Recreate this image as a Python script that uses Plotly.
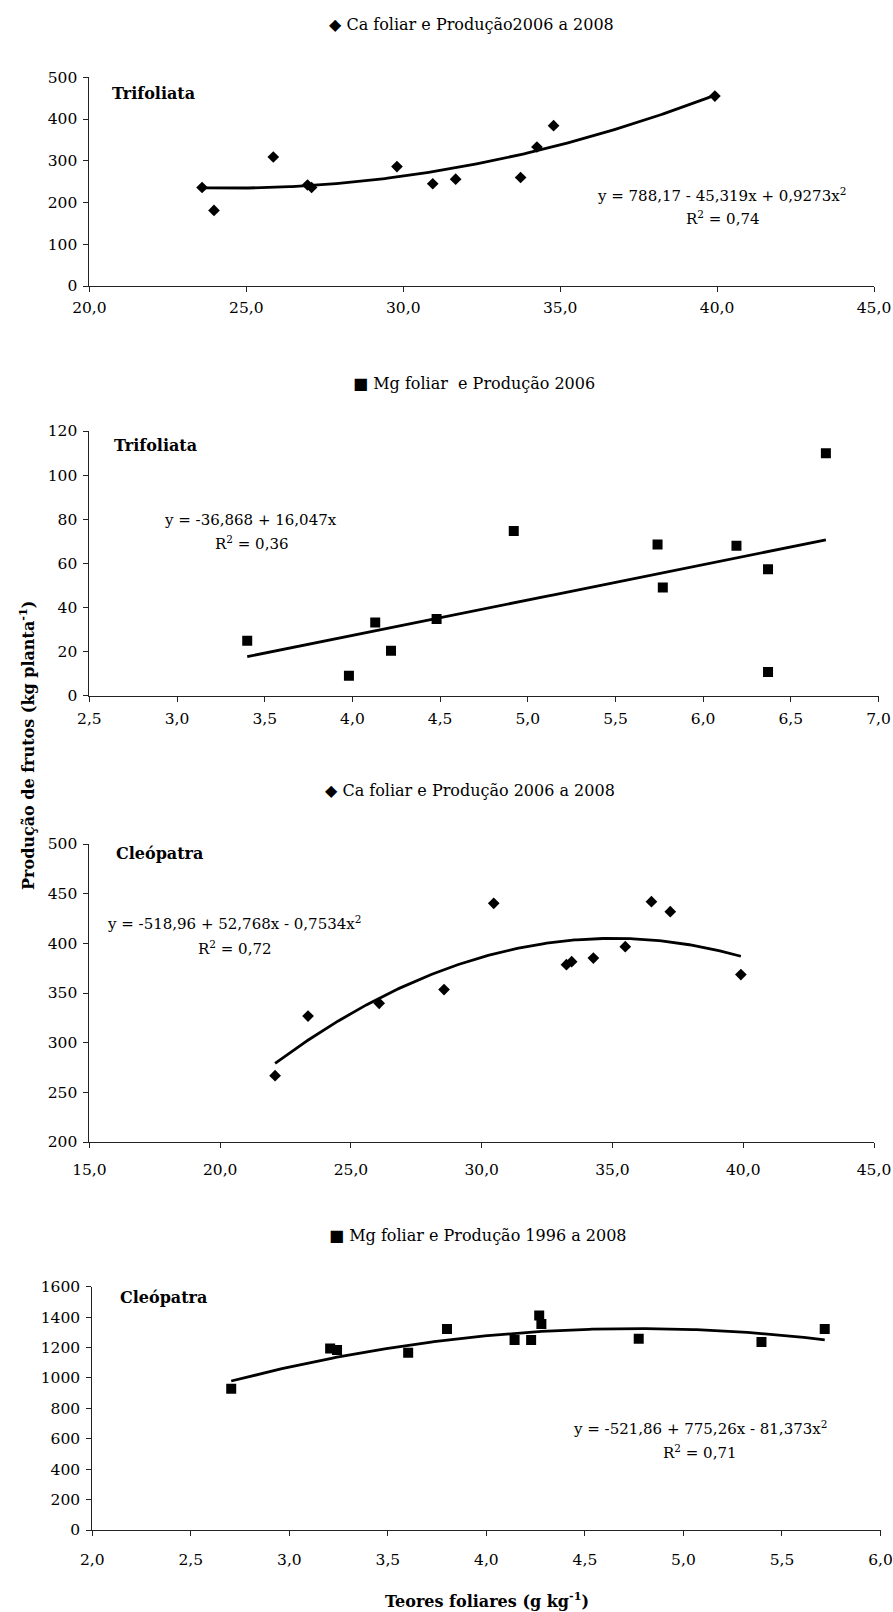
import numpy as np
import plotly.graph_objects as go

W, H = 893, 1612

# ---------------- data ----------------
# Panel 1: Ca foliar x Produção 2006 a 2008 (Trifoliata)
ca_tri_x = [23.59, 23.97, 25.86, 26.95, 27.08, 29.80, 30.94, 31.67, 33.74, 34.26, 34.79, 39.93]
ca_tri_y = [236, 181, 309, 242, 236, 286, 245, 256, 260, 333, 384, 455]
ca_tri_coef = [788.17, -45.319, 0.9273]

# Panel 2: Mg foliar x Produção 2006 (Trifoliata)
mg_tri_x = [3.40, 3.98, 4.13, 4.22, 4.48, 4.92, 5.74, 5.77, 6.19, 6.37, 6.37, 6.70]
mg_tri_y = [24.9, 9.1, 33.2, 20.4, 34.8, 74.7, 68.6, 49.1, 68.0, 57.3, 10.7, 109.9]
mg_tri_coef = [-36.868, 16.047, 0.0]

# Panel 3: Ca foliar x Produção 2006 a 2008 (Cleópatra)
ca_cle_x = [22.10, 23.36, 26.08, 28.56, 30.46, 33.24, 33.44, 34.27, 35.49, 36.49, 37.21, 39.91]
ca_cle_y = [266.8, 326.8, 339.6, 353.4, 440.3, 378.5, 381.5, 385.2, 396.6, 441.9, 431.9, 368.5]
ca_cle_coef = [-518.96, 52.768, -0.7534]

# Panel 4: Mg foliar x Produção 1996 a 2008 (Cleópatra)
mg_cle_x = [2.705, 3.207, 3.242, 3.603, 3.800, 4.143, 4.227, 4.268, 4.279, 4.773, 5.396, 5.717]
mg_cle_y = [929, 1194, 1183, 1166, 1322, 1249, 1249, 1411, 1355, 1258, 1236, 1322]
mg_cle_coef = [-521.86, 775.26, -81.373]

titles = ["\u25C6 Ca foliar e Produção2006 a 2008",
          "\u25A0 Mg foliar  e Produção 2006",
          "\u25C6 Ca foliar e Produção 2006 a 2008",
          "\u25A0 Mg foliar e Produção 1996 a 2008"]
labels = ["Trifoliata", "Trifoliata", "Cleópatra", "Cleópatra"]
equations = ["y = 788,17 - 45,319x + 0,9273x<sup>2</sup>",
             "y = -36,868 + 16,047x",
             "y = -518,96 + 52,768x - 0,7534x<sup>2</sup>",
             "y = -521,86 + 775,26x - 81,373x<sup>2</sup>"]
r2_texts = ["R<sup>2</sup> = 0,74", "R<sup>2</sup> = 0,36", "R<sup>2</sup> = 0,72", "R<sup>2</sup> = 0,71"]

x_ticks = [[20, 25, 30, 35, 40, 45],
           [2.5, 3.0, 3.5, 4.0, 4.5, 5.0, 5.5, 6.0, 6.5, 7.0],
           [15, 20, 25, 30, 35, 40, 45],
           [2.0, 2.5, 3.0, 3.5, 4.0, 4.5, 5.0, 5.5, 6.0]]
x_ranges = [[20, 45], [2.5, 7.0], [15, 45], [2.0, 6.0]]
y_ranges = [[0, 500], [0, 120], [200, 500], [0, 1600]]
y_dticks = [100, 20, 50, 200]

xs = [ca_tri_x, mg_tri_x, ca_cle_x, mg_cle_x]
ys = [ca_tri_y, mg_tri_y, ca_cle_y, mg_cle_y]
coefs = [ca_tri_coef, mg_tri_coef, ca_cle_coef, mg_cle_coef]
symbols = ["diamond", "square", "diamond", "square"]
msizes = [9, 10, 9, 10]

# ---------------- layout geometry (pixels) ----------------
boxes = [(89.4, 874.0, 77.3, 286.0),
         (89.4, 878.5, 431.0, 695.7),
         (89.4, 874.0, 844.0, 1142.0),
         (92.3, 880.5, 1286.7, 1530.0)]
title_pos = [(471, 24), (474, 383), (470, 791), (478, 1235)]
label_pos = [(110, 93), (112, 445), (114, 853), (118, 1297)]
eq_pos = [(721, 195), (251, 520), (234, 923), (700, 1428)]
r2_pos = [(723, 218), (252, 543), (235, 948), (700, 1452)]
x_standoff = [2, 4, 8, 10]

SERIF = "DejaVu Serif"
TICK = 15.5

def fx(px):
    return px / W

def fy(py):
    return 1 - py / H

fig = go.Figure()
layout = dict(width=W, height=H, margin=dict(l=0, r=0, t=0, b=0, autoexpand=False),
              plot_bgcolor="white", paper_bgcolor="white", showlegend=False,
              font=dict(family=SERIF, size=TICK, color="black"))
annotations = []

def fmt(v):
    return ("%.1f" % v).replace(".", ",")

for i in range(4):
    n = "" if i == 0 else str(i + 1)
    xa, ya = "x" + n, "y" + n
    L, R, T, B = boxes[i]
    c0, c1, c2 = coefs[i]
    tx = np.linspace(min(xs[i]), max(xs[i]), 200)
    ty = c0 + c1 * tx + c2 * tx ** 2
    fig.add_trace(go.Scatter(x=tx, y=ty, mode="lines", line=dict(color="black", width=2.8),
                             xaxis=xa, yaxis=ya, hoverinfo="skip"))
    fig.add_trace(go.Scatter(x=xs[i], y=ys[i], mode="markers",
                             marker=dict(symbol=symbols[i], size=msizes[i], color="black"),
                             xaxis=xa, yaxis=ya))
    layout["xaxis" + n] = dict(domain=[fx(L), fx(R)], anchor=ya, range=x_ranges[i],
                               tickvals=x_ticks[i], ticktext=[fmt(v) for v in x_ticks[i]],
                               showline=True, linecolor="#222", linewidth=1,
                               ticks="outside", ticklen=5, tickcolor="#222",
                               ticklabelstandoff=x_standoff[i], automargin=False,
                               showgrid=False, zeroline=False,
                               tickfont=dict(family=SERIF, size=TICK, color="black"))
    layout["yaxis" + n] = dict(domain=[fy(B), fy(T)], anchor=xa, range=y_ranges[i],
                               dtick=y_dticks[i], tick0=0,
                               showline=True, linecolor="#222", linewidth=1,
                               ticks="outside", ticklen=5, tickcolor="#222",
                               ticklabelstandoff=3, automargin=False,
                               showgrid=False, zeroline=False,
                               tickfont=dict(family=SERIF, size=TICK, color="black"))
    annotations.append(dict(x=fx(title_pos[i][0]), y=fy(title_pos[i][1]), xref="paper", yref="paper",
                            text=titles[i], showarrow=False, xanchor="center", yanchor="middle",
                            font=dict(family=SERIF, size=16)))
    annotations.append(dict(x=fx(label_pos[i][0]), y=fy(label_pos[i][1]), xref="paper", yref="paper",
                            text="<b>" + labels[i] + "</b>", showarrow=False, xanchor="left",
                            yanchor="middle", font=dict(family=SERIF, size=16)))
    annotations.append(dict(x=fx(eq_pos[i][0]), y=fy(eq_pos[i][1]), xref="paper", yref="paper",
                            text=equations[i], showarrow=False, xanchor="center", yanchor="middle",
                            font=dict(family=SERIF, size=15)))
    annotations.append(dict(x=fx(r2_pos[i][0]), y=fy(r2_pos[i][1]), xref="paper", yref="paper",
                            text=r2_texts[i], showarrow=False, xanchor="center", yanchor="middle",
                            font=dict(family=SERIF, size=15)))

annotations.append(dict(x=fx(27), y=fy(746), xref="paper", yref="paper",
                        text="<b>Produção de frutos (kg planta<sup>-1</sup>)</b>", textangle=-90,
                        showarrow=False, xanchor="center", yanchor="middle",
                        font=dict(family=SERIF, size=16)))
annotations.append(dict(x=fx(487), y=fy(1600), xref="paper", yref="paper",
                        text="<b>Teores foliares (g kg<sup>-1</sup>)</b>",
                        showarrow=False, xanchor="center", yanchor="middle",
                        font=dict(family=SERIF, size=16)))
layout["annotations"] = annotations
fig.update_layout(**layout)
fig.write_html("out.html", config={"displayModeBar": False},
               post_script="document.body.style.margin='0';document.body.style.overflow='hidden';")
